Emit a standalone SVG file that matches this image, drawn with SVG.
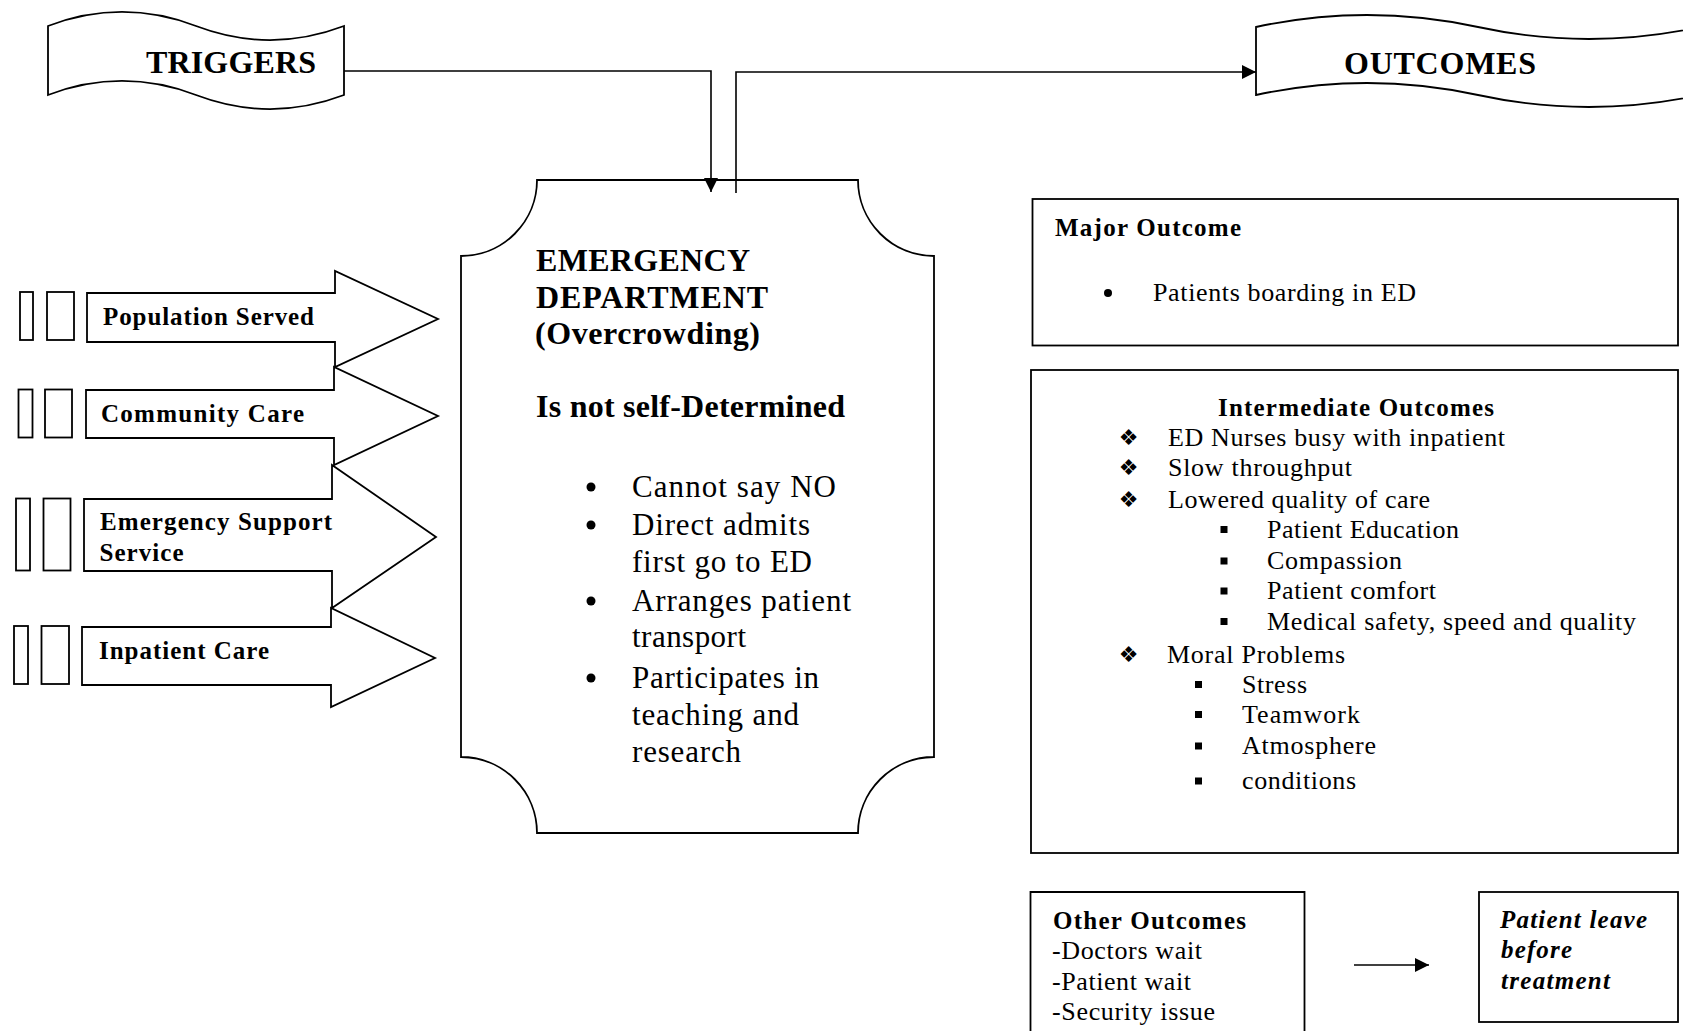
<svg xmlns="http://www.w3.org/2000/svg" width="1683" height="1031" viewBox="0 0 1683 1031">
<style>
.box{fill:#fff;stroke:#000;stroke-width:1.8}
.ln{fill:none;stroke:#000;stroke-width:1.6}
.sf{font-family:"Liberation Serif","Times New Roman",serif;fill:#000}
.b{font-weight:bold}
.bi{font-weight:bold;font-style:italic}
.sym{font-family:"DejaVu Sans",sans-serif;fill:#000}
.dot{fill:#000}
</style>
<defs>
<marker id="ah" markerUnits="userSpaceOnUse" markerWidth="15" markerHeight="15" refX="14" refY="7" orient="auto">
<path d="M0,0 L14,7 L0,14 Z" fill="#000"/>
</marker>
</defs>
<rect width="1683" height="1031" fill="#fff"/>

<g id="triggers">
<path class="box" d="M48,26 C97.3,7.3 146.7,7.3 196,26 C245.3,44.7 294.7,44.7 344,26 V95 C294.7,113.7 245.3,113.7 196,95 C146.7,76.3 97.3,76.3 48,95 Z"/>
<text class="sf b" x="231" y="73" font-size="32" text-anchor="middle" textLength="170">TRIGGERS</text>
</g>

<g id="outcomes">
<path class="box" d="M1256,27 C1330,11 1404,11 1478,27 C1552,43 1626,43 1700,27 V95 C1626,111 1552,111 1478,95 C1404,79 1330,79 1256,95 Z"/>
<text class="sf b" x="1440" y="74" font-size="32" text-anchor="middle" textLength="192">OUTCOMES</text>
</g>

<g id="population-served">
<rect class="box" x="20" y="292" width="13" height="48"/>
<rect class="box" x="47" y="292" width="27" height="48"/>
<path class="box" d="M87,293 H335 V271 L438,319 L335,367 V342 H87 Z"/>
<text class="sf b" x="103" y="324.5" font-size="25" textLength="211">Population Served</text>
</g>

<g id="community-care">
<rect class="box" x="18.5" y="389.5" width="14" height="48"/>
<rect class="box" x="45" y="389.5" width="27" height="48"/>
<path class="box" d="M86,390 H334 V367 L438,416 L334,465 V438 H86 Z"/>
<text class="sf b" x="101" y="422" font-size="25" textLength="203">Community Care</text>
</g>

<g id="emergency-support-service">
<rect class="box" x="16" y="498.5" width="14" height="72"/>
<rect class="box" x="43.5" y="498.5" width="27" height="72"/>
<path class="box" d="M84,499 H332 V465 L436,537 L332,608 V571 H84 Z"/>
<text class="sf b" x="100" y="529.5" font-size="25" textLength="232">Emergency Support</text>
<text class="sf b" x="99.5" y="561" font-size="25" textLength="84">Service</text>
</g>

<g id="inpatient-care">
<rect class="box" x="14" y="626" width="14" height="58"/>
<rect class="box" x="41.5" y="626" width="27.5" height="58"/>
<path class="box" d="M82,627 H331 V608 L435,658 L331,707 V685 H82 Z"/>
<text class="sf b" x="99" y="658.5" font-size="25" textLength="170">Inpatient Care</text>
</g>

<g id="emergency-department">
<path class="box" d="M537,180 H858 A76,76 0 0 0 934,256 V757 A76,76 0 0 0 858,833 H537 A76,76 0 0 0 461,757 V256 A76,76 0 0 0 537,180 Z"/>
<text class="sf b" x="536" y="271" font-size="32" textLength="214">EMERGENCY</text>
<text class="sf b" x="536" y="307.5" font-size="32" textLength="232">DEPARTMENT</text>
<text class="sf b" x="535" y="343.5" font-size="32" textLength="225">(Overcrowding)</text>
<text class="sf b" x="536" y="417" font-size="32" textLength="309">Is not self-Determined</text>
<circle class="dot" cx="591" cy="487" r="4.5"/>
<circle class="dot" cx="591" cy="525" r="4.5"/>
<circle class="dot" cx="591" cy="601" r="4.5"/>
<circle class="dot" cx="591" cy="678" r="4.5"/>
<g font-size="31">
<text class="sf" x="632" y="497" textLength="204">Cannot say NO</text>
<text class="sf" x="632" y="535" textLength="178">Direct admits</text>
<text class="sf" x="632" y="572" textLength="180">first go to ED</text>
<text class="sf" x="632" y="610.5" textLength="219">Arranges patient</text>
<text class="sf" x="632" y="647" textLength="114">transport</text>
<text class="sf" x="632" y="688" textLength="187">Participates in</text>
<text class="sf" x="632" y="724.5" textLength="167">teaching and</text>
<text class="sf" x="632" y="762" textLength="109">research</text>
</g>
</g>

<g id="major-outcome">
<rect class="box" x="1032.5" y="199" width="645.5" height="146.5"/>
<text class="sf b" x="1055" y="236" font-size="25" textLength="186">Major Outcome</text>
<circle class="dot" cx="1108" cy="293" r="4"/>
<text class="sf" x="1153" y="301" font-size="26" textLength="263">Patients boarding in ED</text>
</g>

<g id="intermediate-outcomes">
<rect class="box" x="1031" y="370" width="647" height="483"/>
<text class="sf b" x="1218" y="415.5" font-size="25" textLength="276">Intermediate Outcomes</text>
<g font-size="22">
<text class="sym" x="1128.5" y="445" text-anchor="middle">❖</text>
<text class="sym" x="1128.5" y="475" text-anchor="middle">❖</text>
<text class="sym" x="1128.5" y="506.5" text-anchor="middle">❖</text>
<text class="sym" x="1128.5" y="661.5" text-anchor="middle">❖</text>
</g>
<g class="dot">
<rect x="1220.5" y="526" width="7" height="7"/>
<rect x="1220.5" y="557.5" width="7" height="7"/>
<rect x="1220.5" y="587.5" width="7" height="7"/>
<rect x="1220.5" y="618" width="7" height="7"/>
<rect x="1195" y="681" width="7" height="7"/>
<rect x="1195" y="711" width="7" height="7"/>
<rect x="1195" y="742.5" width="7" height="7"/>
<rect x="1195" y="777.5" width="7" height="7"/>
</g>
<g font-size="26">
<text class="sf" x="1168" y="446" textLength="337">ED Nurses busy with inpatient</text>
<text class="sf" x="1168" y="476" textLength="184">Slow throughput</text>
<text class="sf" x="1168" y="507.5" textLength="262">Lowered quality of care</text>
<text class="sf" x="1267" y="537.5" textLength="192">Patient Education</text>
<text class="sf" x="1267" y="569" textLength="135">Compassion</text>
<text class="sf" x="1267" y="599" textLength="169">Patient comfort</text>
<text class="sf" x="1267" y="629.5" textLength="369">Medical safety, speed and quality</text>
<text class="sf" x="1167" y="662.5" textLength="178">Moral Problems</text>
<text class="sf" x="1242" y="692.5" textLength="65">Stress</text>
<text class="sf" x="1242" y="722.5" textLength="118">Teamwork</text>
<text class="sf" x="1242" y="754" textLength="134">Atmosphere</text>
<text class="sf" x="1242" y="789" textLength="114">conditions</text>
</g>
</g>

<g id="other-outcomes">
<path class="box" d="M1030.5,1040 V892 H1304.5 V1040"/>
<text class="sf b" x="1053" y="929" font-size="25" textLength="193">Other Outcomes</text>
<text class="sf" x="1052" y="959" font-size="26" textLength="150">-Doctors wait</text>
<text class="sf" x="1052" y="990" font-size="26" textLength="139">-Patient wait</text>
<text class="sf" x="1052" y="1020" font-size="26" textLength="163">-Security issue</text>
</g>

<g id="patient-leave">
<rect class="box" x="1479" y="892" width="199" height="130"/>
<text class="sf bi" x="1500" y="928" font-size="25" textLength="147">Patient leave</text>
<text class="sf bi" x="1501" y="958" font-size="25" textLength="71">before</text>
<text class="sf bi" x="1501" y="989" font-size="25" textLength="109">treatment</text>
</g>

<g id="connectors">
<path class="ln" d="M344,71 H711 V192" marker-end="url(#ah)"/>
<path class="ln" d="M736,193 V72 H1256" marker-end="url(#ah)"/>
<path class="ln" d="M1354,965 H1429" marker-end="url(#ah)"/>
</g>
</svg>
